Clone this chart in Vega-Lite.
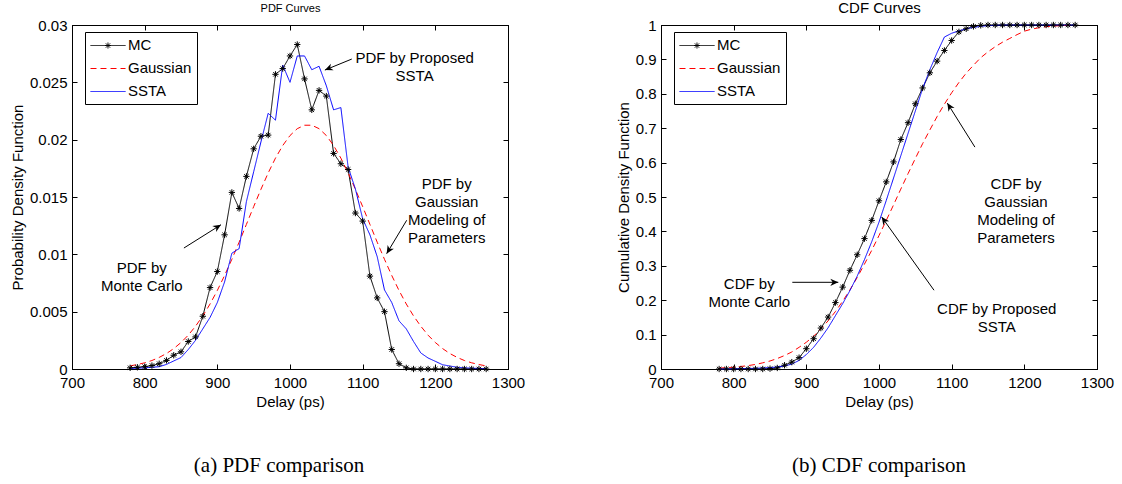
{
  "$schema": "https://vega.github.io/schema/vega-lite/v6.json",
  "background": "white",
  "padding": {"left": 9, "top": 0, "right": 5, "bottom": 4},
  "config": {
    "font": "Liberation Sans",
    "view": {"stroke": "black", "strokeWidth": 1},
    "axis": {
      "grid": false,
      "domainColor": "black",
      "domainWidth": 1,
      "tickColor": "black",
      "tickWidth": 1,
      "tickSize": -5,
      "labelFlush": false,
      "labelOverlap": false,
      "labelColor": "black",
      "titleColor": "black",
      "labelFont": "Liberation Sans",
      "titleFont": "Liberation Sans",
      "labelFontSize": 15,
      "titleFontSize": 15,
      "titleFontWeight": "normal",
      "labelPadding": 10,
      "titlePadding": 4
    },
    "legend": {
      "labelFont": "Liberation Sans",
      "labelFontSize": 15,
      "labelColor": "black",
      "strokeColor": "black",
      "fillColor": "white",
      "padding": 5,
      "rowPadding": 7,
      "labelOffset": 22,
      "symbolSize": 225,
      "symbolStrokeWidth": 1
    }
  },
  "resolve": {"scale": {"x": "independent", "y": "independent", "color": "independent", "strokeDash": "independent"}},
  "bounds": "flush",
  "spacing": 153,
  "hconcat": [
    {
      "width": 436,
      "height": 344,
      "title": {"text": "(a) PDF comparison", "orient": "bottom", "anchor": "middle", "font": "Liberation Serif", "fontSize": 21, "fontWeight": "normal", "color": "black", "offset": 46, "dx": -11},
      "resolve": {"axis": {"x": "independent", "y": "independent"}},
      "layer": [
        {
          "data": {"name": "pdf"},
          "transform": [{"fold": ["MC", "Gaussian", "SSTA"], "as": ["series", "value"]}],
          "mark": {"type": "line", "strokeWidth": 1},
          "encoding": {
            "x": {"field": "delay", "type": "quantitative", "scale": {"domain": [700, 1300], "nice": false, "zero": false}, "axis": {"orient": "bottom", "title": "Delay (ps)", "values": [700, 800, 900, 1000, 1100, 1200, 1300], "format": "d", "labelPadding": 11}},
            "y": {"field": "value", "type": "quantitative", "scale": {"domain": [0, 0.03], "nice": false}, "axis": {"orient": "left", "title": "Probability Density Function", "values": [0, 0.005, 0.01, 0.015, 0.02, 0.025, 0.03], "format": ".3~f"}},
            "color": {"field": "series", "type": "nominal", "scale": {"domain": ["MC", "Gaussian", "SSTA"], "range": ["black", "#ff0000", "#0000ff"]},
              "legend": {"title": null, "orient": "none", "legendX": 13, "legendY": 7, "symbolType": "M-1,0.0667L3.67,0.0667",
                "encode": {"symbols": {"update": {
                  "shape": {"signal": "datum.value === 'MC' ? 'M-1,0.0667L3.67,0.0667M1.33,-0.33L1.33,0.47M0.93,0.0667L1.73,0.0667M1.05,-0.21L1.61,0.35M1.05,0.35L1.61,-0.21' : datum.value === 'Gaussian' ? 'M-1,0.0667L-0.2,0.0667M0.33,0.0667L1.13,0.0667M1.67,0.0667L2.47,0.0667M3,0.0667L3.67,0.0667' : 'M-1,0.0667L3.67,0.0667'"},
                  "stroke": {"signal": "datum.value === 'Gaussian' ? '#ff0000' : datum.value === 'SSTA' ? '#0000ff' : '#000000'"},
                  "strokeDash": {"value": [1, 0]},
                  "strokeWidth": {"value": 1},
                  "opacity": {"value": 1}
                }}}}},
            "strokeDash": {"field": "series", "type": "nominal", "scale": {"domain": ["MC", "Gaussian", "SSTA"], "range": [[1, 0], [6, 4], [1, 0]]}, "legend": null}
          }
        },
        {
          "data": {"name": "pdf"},
          "mark": {"type": "point", "shape": "M-1,0L1,0M0,-1L0,1M-0.7,-0.7L0.7,0.7M-0.7,0.7L0.7,-0.7", "filled": false, "stroke": "black", "strokeWidth": 1, "size": 40, "opacity": 1},
          "encoding": {
            "x": {"field": "delay", "type": "quantitative", "scale": {"domain": [700, 1300], "nice": false, "zero": false}, "axis": null},
            "y": {"field": "MC", "type": "quantitative", "scale": {"domain": [0, 0.03], "nice": false}, "axis": null}
          }
        },
        {
          "data": {"name": "pdfArrows"},
          "mark": {"type": "rule", "color": "black", "strokeWidth": 1},
          "encoding": {
            "x": {"field": "x0", "type": "quantitative", "scale": {"domain": [700, 1300], "nice": false, "zero": false}, "axis": null},
            "y": {"field": "y0", "type": "quantitative", "scale": {"domain": [0, 0.03], "nice": false}, "axis": null},
            "x2": {"field": "x1"},
            "y2": {"field": "y1"}
          }
        },
        {
          "data": {"name": "pdfArrows"},
          "mark": {"type": "point", "shape": "M0,0L-1,-0.45L-0.7,0L-1,0.45Z", "filled": true, "color": "black", "size": 256, "opacity": 1},
          "encoding": {
            "x": {"field": "x1", "type": "quantitative", "scale": {"domain": [700, 1300], "nice": false, "zero": false}, "axis": null},
            "y": {"field": "y1", "type": "quantitative", "scale": {"domain": [0, 0.03], "nice": false}, "axis": null},
            "angle": {"field": "heading", "type": "quantitative", "scale": null}
          }
        },
        {
          "data": {"name": "pdfNotes"},
          "mark": {"type": "text", "fontSize": 15, "font": "Liberation Sans", "lineBreak": "\n", "lineHeight": 18, "align": "center", "baseline": "middle", "color": "black"},
          "encoding": {
            "x": {"field": "x", "type": "quantitative", "scale": {"domain": [700, 1300], "nice": false, "zero": false}, "axis": {"orient": "top", "labels": false, "title": "PDF Curves", "titleFontSize": 11, "titlePadding": 11, "values": [700, 800, 900, 1000, 1100, 1200, 1300]}},
            "y": {"field": "y", "type": "quantitative", "scale": {"domain": [0, 0.03], "nice": false}, "axis": {"orient": "right", "labels": false, "title": null, "values": [0, 0.005, 0.01, 0.015, 0.02, 0.025, 0.03]}},
            "text": {"field": "label"}
          }
        }
      ]
    },
    {
      "width": 436,
      "height": 344,
      "title": {"text": "(b) CDF comparison", "orient": "bottom", "anchor": "middle", "font": "Liberation Serif", "fontSize": 21, "fontWeight": "normal", "color": "black", "offset": 46},
      "resolve": {"axis": {"x": "independent", "y": "independent"}},
      "layer": [
        {
          "data": {"name": "cdf"},
          "transform": [{"fold": ["MC", "Gaussian", "SSTA"], "as": ["series", "value"]}],
          "mark": {"type": "line", "strokeWidth": 1},
          "encoding": {
            "x": {"field": "delay", "type": "quantitative", "scale": {"domain": [700, 1300], "nice": false, "zero": false}, "axis": {"orient": "bottom", "title": "Delay (ps)", "values": [700, 800, 900, 1000, 1100, 1200, 1300], "format": "d", "labelPadding": 11}},
            "y": {"field": "value", "type": "quantitative", "scale": {"domain": [0, 1], "nice": false}, "axis": {"orient": "left", "title": "Cumulative Density Function", "values": [0, 0.1, 0.2, 0.3, 0.4, 0.5, 0.6, 0.7, 0.8, 0.9, 1], "format": ".1~f"}},
            "color": {"field": "series", "type": "nominal", "scale": {"domain": ["MC", "Gaussian", "SSTA"], "range": ["black", "#ff0000", "#0000ff"]},
              "legend": {"title": null, "orient": "none", "legendX": 13, "legendY": 7, "symbolType": "M-1,0.0667L3.67,0.0667",
                "encode": {"symbols": {"update": {
                  "shape": {"signal": "datum.value === 'MC' ? 'M-1,0.0667L3.67,0.0667M1.33,-0.33L1.33,0.47M0.93,0.0667L1.73,0.0667M1.05,-0.21L1.61,0.35M1.05,0.35L1.61,-0.21' : datum.value === 'Gaussian' ? 'M-1,0.0667L-0.2,0.0667M0.33,0.0667L1.13,0.0667M1.67,0.0667L2.47,0.0667M3,0.0667L3.67,0.0667' : 'M-1,0.0667L3.67,0.0667'"},
                  "stroke": {"signal": "datum.value === 'Gaussian' ? '#ff0000' : datum.value === 'SSTA' ? '#0000ff' : '#000000'"},
                  "strokeDash": {"value": [1, 0]},
                  "strokeWidth": {"value": 1},
                  "opacity": {"value": 1}
                }}}}},
            "strokeDash": {"field": "series", "type": "nominal", "scale": {"domain": ["MC", "Gaussian", "SSTA"], "range": [[1, 0], [6, 4], [1, 0]]}, "legend": null}
          }
        },
        {
          "data": {"name": "cdf"},
          "mark": {"type": "point", "shape": "M-1,0L1,0M0,-1L0,1M-0.7,-0.7L0.7,0.7M-0.7,0.7L0.7,-0.7", "filled": false, "stroke": "black", "strokeWidth": 1, "size": 40, "opacity": 1},
          "encoding": {
            "x": {"field": "delay", "type": "quantitative", "scale": {"domain": [700, 1300], "nice": false, "zero": false}, "axis": null},
            "y": {"field": "MC", "type": "quantitative", "scale": {"domain": [0, 1], "nice": false}, "axis": null}
          }
        },
        {
          "data": {"name": "cdfArrows"},
          "mark": {"type": "rule", "color": "black", "strokeWidth": 1},
          "encoding": {
            "x": {"field": "x0", "type": "quantitative", "scale": {"domain": [700, 1300], "nice": false, "zero": false}, "axis": null},
            "y": {"field": "y0", "type": "quantitative", "scale": {"domain": [0, 1], "nice": false}, "axis": null},
            "x2": {"field": "x1"},
            "y2": {"field": "y1"}
          }
        },
        {
          "data": {"name": "cdfArrows"},
          "mark": {"type": "point", "shape": "M0,0L-1,-0.45L-0.7,0L-1,0.45Z", "filled": true, "color": "black", "size": 256, "opacity": 1},
          "encoding": {
            "x": {"field": "x1", "type": "quantitative", "scale": {"domain": [700, 1300], "nice": false, "zero": false}, "axis": null},
            "y": {"field": "y1", "type": "quantitative", "scale": {"domain": [0, 1], "nice": false}, "axis": null},
            "angle": {"field": "heading", "type": "quantitative", "scale": null}
          }
        },
        {
          "data": {"name": "cdfNotes"},
          "mark": {"type": "text", "fontSize": 15, "font": "Liberation Sans", "lineBreak": "\n", "lineHeight": 18, "align": "center", "baseline": "middle", "color": "black"},
          "encoding": {
            "x": {"field": "x", "type": "quantitative", "scale": {"domain": [700, 1300], "nice": false, "zero": false}, "axis": {"orient": "top", "labels": false, "title": "CDF Curves", "titleFontSize": 15, "titlePadding": 9, "values": [700, 800, 900, 1000, 1100, 1200, 1300]}},
            "y": {"field": "y", "type": "quantitative", "scale": {"domain": [0, 1], "nice": false}, "axis": {"orient": "right", "labels": false, "title": null, "values": [0, 0.1, 0.2, 0.3, 0.4, 0.5, 0.6, 0.7, 0.8, 0.9, 1]}},
            "text": {"field": "label"}
          }
        }
      ]
    }
  ],
  "datasets": {
    "pdf": [
      {"delay": 780, "MC": 0.0001, "Gaussian": 0.00027, "SSTA": 0.00005},
      {"delay": 790, "MC": 0.00015, "Gaussian": 0.00039, "SSTA": 0.00007},
      {"delay": 800, "MC": 0.0002, "Gaussian": 0.00054, "SSTA": 0.0001},
      {"delay": 810, "MC": 0.0003, "Gaussian": 0.00074, "SSTA": 0.00015},
      {"delay": 820, "MC": 0.00046, "Gaussian": 0.00101, "SSTA": 0.0002},
      {"delay": 830, "MC": 0.00075, "Gaussian": 0.00135, "SSTA": 0.0004},
      {"delay": 840, "MC": 0.0012, "Gaussian": 0.00178, "SSTA": 0.0007},
      {"delay": 850, "MC": 0.0015, "Gaussian": 0.00231, "SSTA": 0.001},
      {"delay": 860, "MC": 0.0024, "Gaussian": 0.00295, "SSTA": 0.0017},
      {"delay": 870, "MC": 0.0028, "Gaussian": 0.00373, "SSTA": 0.0025},
      {"delay": 880, "MC": 0.0046, "Gaussian": 0.00463, "SSTA": 0.0035},
      {"delay": 890, "MC": 0.0071, "Gaussian": 0.00567, "SSTA": 0.0045},
      {"delay": 900, "MC": 0.0085, "Gaussian": 0.00685, "SSTA": 0.0058},
      {"delay": 910, "MC": 0.0117, "Gaussian": 0.00816, "SSTA": 0.0076},
      {"delay": 920, "MC": 0.0154, "Gaussian": 0.00957, "SSTA": 0.0101},
      {"delay": 930, "MC": 0.014, "Gaussian": 0.01106, "SSTA": 0.0105},
      {"delay": 940, "MC": 0.0168, "Gaussian": 0.01261, "SSTA": 0.0146},
      {"delay": 950, "MC": 0.0192, "Gaussian": 0.01416, "SSTA": 0.0172},
      {"delay": 960, "MC": 0.0203, "Gaussian": 0.01567, "SSTA": 0.0198},
      {"delay": 970, "MC": 0.0204, "Gaussian": 0.0171, "SSTA": 0.0223},
      {"delay": 980, "MC": 0.0257, "Gaussian": 0.01839, "SSTA": 0.0217},
      {"delay": 990, "MC": 0.0262, "Gaussian": 0.01949, "SSTA": 0.0265},
      {"delay": 1000, "MC": 0.0273, "Gaussian": 0.02036, "SSTA": 0.025},
      {"delay": 1010, "MC": 0.0283, "Gaussian": 0.02096, "SSTA": 0.0273},
      {"delay": 1020, "MC": 0.0253, "Gaussian": 0.02126, "SSTA": 0.0273},
      {"delay": 1030, "MC": 0.0226, "Gaussian": 0.02126, "SSTA": 0.0261},
      {"delay": 1040, "MC": 0.0243, "Gaussian": 0.02096, "SSTA": 0.0264},
      {"delay": 1050, "MC": 0.0238, "Gaussian": 0.02036, "SSTA": 0.0247},
      {"delay": 1060, "MC": 0.0188, "Gaussian": 0.01949, "SSTA": 0.0226},
      {"delay": 1070, "MC": 0.0179, "Gaussian": 0.01839, "SSTA": 0.0228},
      {"delay": 1080, "MC": 0.0174, "Gaussian": 0.0171, "SSTA": 0.0176},
      {"delay": 1090, "MC": 0.0136, "Gaussian": 0.01567, "SSTA": 0.0157},
      {"delay": 1100, "MC": 0.0129, "Gaussian": 0.01416, "SSTA": 0.0131},
      {"delay": 1110, "MC": 0.0081, "Gaussian": 0.01261, "SSTA": 0.0117},
      {"delay": 1120, "MC": 0.0062, "Gaussian": 0.01106, "SSTA": 0.0098},
      {"delay": 1130, "MC": 0.005, "Gaussian": 0.00957, "SSTA": 0.0069},
      {"delay": 1140, "MC": 0.0017, "Gaussian": 0.00816, "SSTA": 0.0058},
      {"delay": 1150, "MC": 0.00046, "Gaussian": 0.00685, "SSTA": 0.0042},
      {"delay": 1160, "MC": 0.0001, "Gaussian": 0.00567, "SSTA": 0.0035},
      {"delay": 1170, "MC": 0, "Gaussian": 0.00463, "SSTA": 0.0024},
      {"delay": 1180, "MC": 0, "Gaussian": 0.00373, "SSTA": 0.0014},
      {"delay": 1190, "MC": 0, "Gaussian": 0.00295, "SSTA": 0.00096},
      {"delay": 1200, "MC": 0, "Gaussian": 0.00231, "SSTA": 0.00067},
      {"delay": 1210, "MC": 0, "Gaussian": 0.00178, "SSTA": 0.00037},
      {"delay": 1220, "MC": 0, "Gaussian": 0.00135, "SSTA": 0.00026},
      {"delay": 1230, "MC": 0, "Gaussian": 0.00101, "SSTA": 0.00015},
      {"delay": 1240, "MC": 0, "Gaussian": 0.00074, "SSTA": 0.0001},
      {"delay": 1250, "MC": 0, "Gaussian": 0.00054, "SSTA": 0.00007},
      {"delay": 1260, "MC": 0, "Gaussian": 0.00039, "SSTA": 0.00005},
      {"delay": 1270, "MC": 0, "Gaussian": 0.00027, "SSTA": 0.00003}
    ],
    "cdf": [
      {"delay": 780, "MC": 0, "Gaussian": 0.0027, "SSTA": 0},
      {"delay": 790, "MC": 0, "Gaussian": 0.0038, "SSTA": 0},
      {"delay": 800, "MC": 0, "Gaussian": 0.0052, "SSTA": 0.0005},
      {"delay": 810, "MC": 0, "Gaussian": 0.0073, "SSTA": 0.001},
      {"delay": 820, "MC": 0, "Gaussian": 0.0099, "SSTA": 0.0015},
      {"delay": 830, "MC": 0, "Gaussian": 0.0132, "SSTA": 0.002},
      {"delay": 840, "MC": 0, "Gaussian": 0.0179, "SSTA": 0.003},
      {"delay": 850, "MC": 0.001, "Gaussian": 0.0233, "SSTA": 0.004},
      {"delay": 860, "MC": 0.003, "Gaussian": 0.0304, "SSTA": 0.006},
      {"delay": 870, "MC": 0.011, "Gaussian": 0.0392, "SSTA": 0.009},
      {"delay": 880, "MC": 0.02, "Gaussian": 0.0495, "SSTA": 0.014},
      {"delay": 890, "MC": 0.033, "Gaussian": 0.063, "SSTA": 0.025},
      {"delay": 900, "MC": 0.059, "Gaussian": 0.0778, "SSTA": 0.042},
      {"delay": 910, "MC": 0.088, "Gaussian": 0.0951, "SSTA": 0.063},
      {"delay": 920, "MC": 0.119, "Gaussian": 0.117, "SSTA": 0.09},
      {"delay": 930, "MC": 0.151, "Gaussian": 0.14, "SSTA": 0.12},
      {"delay": 940, "MC": 0.193, "Gaussian": 0.167, "SSTA": 0.155},
      {"delay": 950, "MC": 0.238, "Gaussian": 0.197, "SSTA": 0.19},
      {"delay": 960, "MC": 0.287, "Gaussian": 0.23, "SSTA": 0.228},
      {"delay": 970, "MC": 0.332, "Gaussian": 0.266, "SSTA": 0.27},
      {"delay": 980, "MC": 0.379, "Gaussian": 0.305, "SSTA": 0.318},
      {"delay": 990, "MC": 0.432, "Gaussian": 0.345, "SSTA": 0.37},
      {"delay": 1000, "MC": 0.489, "Gaussian": 0.388, "SSTA": 0.427},
      {"delay": 1010, "MC": 0.544, "Gaussian": 0.432, "SSTA": 0.49},
      {"delay": 1020, "MC": 0.602, "Gaussian": 0.477, "SSTA": 0.555},
      {"delay": 1030, "MC": 0.667, "Gaussian": 0.523, "SSTA": 0.62},
      {"delay": 1040, "MC": 0.716, "Gaussian": 0.568, "SSTA": 0.685},
      {"delay": 1050, "MC": 0.771, "Gaussian": 0.612, "SSTA": 0.75},
      {"delay": 1060, "MC": 0.817, "Gaussian": 0.655, "SSTA": 0.815},
      {"delay": 1070, "MC": 0.861, "Gaussian": 0.695, "SSTA": 0.87},
      {"delay": 1080, "MC": 0.895, "Gaussian": 0.734, "SSTA": 0.92},
      {"delay": 1090, "MC": 0.926, "Gaussian": 0.77, "SSTA": 0.965},
      {"delay": 1100, "MC": 0.955, "Gaussian": 0.803, "SSTA": 0.976},
      {"delay": 1110, "MC": 0.98, "Gaussian": 0.833, "SSTA": 0.983},
      {"delay": 1120, "MC": 0.989, "Gaussian": 0.86, "SSTA": 0.989},
      {"delay": 1130, "MC": 0.996, "Gaussian": 0.883, "SSTA": 0.993},
      {"delay": 1140, "MC": 0.999, "Gaussian": 0.905, "SSTA": 0.996},
      {"delay": 1150, "MC": 1, "Gaussian": 0.922, "SSTA": 0.998},
      {"delay": 1160, "MC": 1, "Gaussian": 0.937, "SSTA": 0.999},
      {"delay": 1170, "MC": 1, "Gaussian": 0.95, "SSTA": 1},
      {"delay": 1180, "MC": 1, "Gaussian": 0.961, "SSTA": 1},
      {"delay": 1190, "MC": 1, "Gaussian": 0.972, "SSTA": 1},
      {"delay": 1200, "MC": 1, "Gaussian": 0.982, "SSTA": 1},
      {"delay": 1210, "MC": 1, "Gaussian": 0.988, "SSTA": 1},
      {"delay": 1220, "MC": 1, "Gaussian": 0.992, "SSTA": 1},
      {"delay": 1230, "MC": 1, "Gaussian": 0.995, "SSTA": 1},
      {"delay": 1240, "MC": 1, "Gaussian": 0.997, "SSTA": 1},
      {"delay": 1250, "MC": 1, "Gaussian": 0.998, "SSTA": 1},
      {"delay": 1260, "MC": 1, "Gaussian": 0.999, "SSTA": 1},
      {"delay": 1270, "MC": 1, "Gaussian": 0.999, "SSTA": 1}
    ],
    "pdfArrows": [
      {"x0": 1085, "y0": 0.02703, "x1": 1048, "y1": 0.02607, "heading": 157.8},
      {"x0": 854, "y0": 0.01055, "x1": 905, "y1": 0.01258, "heading": -32.4},
      {"x0": 1160.6, "y0": 0.01297, "x1": 1133, "y1": 0.01006, "heading": 120.9}
    ],
    "cdfArrows": [
      {"x0": 880.7, "y0": 0.252, "x1": 944, "y1": 0.252, "heading": 0},
      {"x0": 1132, "y0": 0.645, "x1": 1094, "y1": 0.773, "heading": -122.2},
      {"x0": 1075.7, "y0": 0.229, "x1": 1003.7, "y1": 0.442, "heading": -125.5}
    ],
    "pdfNotes": [
      {"x": 1171.5, "y": 0.02716, "label": "PDF by Proposed\nSSTA"},
      {"x": 796, "y": 0.00883, "label": "PDF by\nMonte Carlo"},
      {"x": 1215.6, "y": 0.01616, "label": "PDF by\nGaussian\nModeling of\nParameters"}
    ],
    "cdfNotes": [
      {"x": 821.5, "y": 0.248, "label": "CDF by\nMonte Carlo"},
      {"x": 1188.5, "y": 0.5385, "label": "CDF by\nGaussian\nModeling of\nParameters"},
      {"x": 1162, "y": 0.174, "label": "CDF by Proposed\nSSTA"}
    ]
  }
}
